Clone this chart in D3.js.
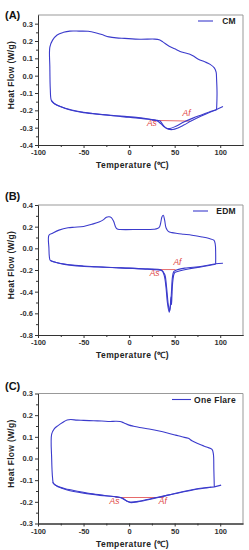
<!DOCTYPE html>
<html>
<head>
<meta charset="utf-8">
<script src="https://cdn.jsdelivr.net/npm/d3@7"></script>
<style>
  body { margin: 0; background: #fff; }
  svg { display: block; font-family: "Liberation Sans", Arial, sans-serif; }
  .tick text { fill: #333; font-size: 7.5px; font-weight: bold; }
  .domain, .tick line { stroke: #333; }
</style>
</head>
<body>
<div id="chart"></div>
<script>
// x axis (shared)
var xTicks = [-100, -50, 0, 50, 100];
var xTickLabels = ["-100", "-50", "0", "50", "100"];
var xMinor = [-75, -25, 25, 75];

// (A) CM
var cmTicks = [0.3, 0.2, 0.1, 0.0, -0.1, -0.2, -0.3, -0.4];
var cmTickLabels = ["0.3", "0.2", "0.1", "0.0", "-0.1", "-0.2", "-0.3", "-0.4"];
var cmLoop = [[96,-0.197],[96.5,-0.1],[96,-0.02],[95.5,0.02],[93.5,0.045],[89,0.065],[83,0.08],[76,0.095],[70,0.115],[66,0.125],[61,0.132],[56,0.14],[50,0.155],[44,0.17],[37,0.195],[33,0.207],[28,0.211],[12,0.21],[-5,0.215],[-14,0.218],[-22,0.224],[-30,0.237],[-37,0.248],[-45,0.256],[-55,0.257],[-65,0.257],[-72,0.25],[-79,0.235],[-84,0.205],[-87,0.165],[-87,0.05],[-86.5,-0.08],[-85.5,-0.14],[-83,-0.158],[-78,-0.172],[-70,-0.19],[-60,-0.204],[-50,-0.213],[-35,-0.222],[-20,-0.229],[-5,-0.235],[10,-0.242],[20,-0.249],[27,-0.255],[31,-0.262],[35,-0.278],[39,-0.297],[43,-0.309],[48,-0.311],[53,-0.303],[60,-0.285],[68,-0.262],[78,-0.236],[88,-0.212],[96,-0.197]];
var cmHeat = [[-85,-0.145],[-80,-0.168],[-70,-0.188],[-55,-0.207],[-40,-0.218],[-20,-0.23],[0,-0.24],[15,-0.248],[25,-0.255],[31,-0.258],[34,-0.262],[36,-0.275],[38,-0.29],[41,-0.303],[45,-0.305],[52,-0.29],[60,-0.268],[70,-0.245],[80,-0.225],[90,-0.205],[96,-0.195],[103,-0.178]];
var cmBase = [[25,-0.258],[67,-0.262]];
var cmMarks = [{t: "As", x: 25, y: -0.29}, {t: "Af", x: 63, y: -0.232}];

// (B) EDM
var edmTicks = [0.4, 0.2, 0.0, -0.2, -0.4, -0.6, -0.8];
var edmTickLabels = ["0.4", "0.2", "0.0", "-0.2", "-0.4", "-0.6", "-0.8"];
var edmLoop = [[95,-0.142],[95,-0.05],[94.5,0.04],[93,0.075],[88,0.09],[80,0.105],[69,0.121],[60,0.13],[53,0.137],[47,0.145],[43,0.157],[40.5,0.19],[39,0.26],[37.5,0.305],[36,0.29],[35,0.25],[33.5,0.2],[31,0.182],[27,0.176],[10,0.174],[-10,0.174],[-13,0.178],[-15,0.2],[-17,0.25],[-19.5,0.283],[-22,0.292],[-25,0.287],[-28,0.265],[-33,0.243],[-41,0.222],[-50,0.202],[-60,0.195],[-67,0.19],[-77,0.168],[-84,0.14],[-88,0.121],[-88,0.0],[-87.5,-0.08],[-86.5,-0.112],[-82,-0.127],[-71,-0.148],[-52,-0.166],[-33,-0.173],[-14,-0.179],[4,-0.185],[20,-0.193],[30,-0.198],[36,-0.205],[38.5,-0.25],[40.5,-0.36],[42,-0.5],[44,-0.59],[45.5,-0.52],[46.5,-0.4],[47.5,-0.27],[49,-0.215],[52,-0.2],[61,-0.183],[80,-0.166],[95,-0.142],[103,-0.138]];
var edmHeat = [[-86,-0.115],[-75,-0.14],[-50,-0.163],[-25,-0.175],[0,-0.183],[20,-0.19],[35,-0.2],[39,-0.24],[41,-0.35],[43,-0.52],[44.5,-0.58],[46,-0.45],[46.5,-0.52],[47,-0.44],[48,-0.3],[50,-0.225],[55,-0.21],[65,-0.19],[80,-0.17],[95,-0.147]];
var edmBase = [[24,-0.196],[51,-0.196]];
var edmMarks = [{t: "As", x: 28, y: -0.255}, {t: "Af", x: 53, y: -0.15}];

// (C) One Flare
var flareTicks = [0.3, 0.2, 0.1, 0.0, -0.1, -0.2, -0.3];
var flareTickLabels = ["0.3", "0.2", "0.1", "0.0", "-0.1", "-0.2", "-0.3"];
var flareLoop = [[93.5,-0.131],[93,-0.05],[92.5,0.02],[91,0.042],[85,0.053],[80,0.061],[74,0.072],[69,0.082],[65,0.093],[58,0.1],[51,0.108],[42,0.118],[33,0.127],[22,0.136],[11.5,0.143],[5,0.149],[0,0.154],[-6,0.165],[-10,0.171],[-15,0.172],[-21,0.171],[-30,0.173],[-39,0.174],[-50,0.176],[-57,0.177],[-64,0.18],[-68,0.178],[-73,0.166],[-78,0.152],[-82,0.138],[-85,0.112],[-85,0.0],[-84,-0.09],[-83,-0.115],[-78,-0.13],[-68,-0.145],[-50,-0.16],[-32,-0.17],[-14,-0.177],[-7,-0.183],[-3,-0.195],[1,-0.203],[5,-0.203],[15,-0.196],[33,-0.179],[51,-0.16],[69,-0.144],[83,-0.135],[93.5,-0.131],[101,-0.123]];
var flareHeat = [[-84,-0.11],[-80,-0.125],[-70,-0.14],[-55,-0.152],[-40,-0.163],[-25,-0.172],[-10,-0.18],[0,-0.2],[10,-0.198],[30,-0.18],[50,-0.163],[70,-0.145],[90,-0.133]];
var flareBase = [[-15,-0.18],[38,-0.18]];
var flareMarks = [{t: "As", x: -16, y: -0.212}, {t: "Af", x: 37, y: -0.212}];

var lineColor = "#3b3bcc";
var redColor = "#e04444";

var svg = d3.select("#chart").append("svg")
    .attr("width", 249)
    .attr("height", 550);

function drawPanel(p) {
    var left = 38, right = 243;
    var x = d3.scaleLinear().domain([-100, 125]).range([left, right]);
    var y = d3.scaleLinear().domain(p.yDomain).range([p.bottom, p.top]);
    var g = svg.append("g");

    // box top/right
    g.append("path")
        .attr("d", "M" + left + "," + p.top + "H" + right + "V" + p.bottom)
        .attr("fill", "none")
        .attr("stroke", "#999")
        .attr("stroke-width", 1);

    // minor ticks
    g.append("g")
        .attr("transform", "translate(0," + p.bottom + ")")
        .call(d3.axisBottom(x).tickValues(xMinor).tickFormat("").tickSize(2).tickSizeOuter(0));
    var yMinor = p.ticks.slice(1).map(function (d, i) { return (d + p.ticks[i]) / 2; });
    g.append("g")
        .attr("transform", "translate(" + left + ",0)")
        .call(d3.axisLeft(y).tickValues(yMinor).tickFormat("").tickSize(2).tickSizeOuter(0));

    // major axes
    g.append("g")
        .attr("transform", "translate(0," + p.bottom + ")")
        .call(d3.axisBottom(x).tickValues(xTicks)
            .tickFormat(function (d, i) { return xTickLabels[i]; })
            .tickSize(3).tickSizeOuter(0).tickPadding(2));
    g.append("g")
        .attr("transform", "translate(" + left + ",0)")
        .call(d3.axisLeft(y).tickValues(p.ticks)
            .tickFormat(function (d, i) { return p.tickLabels[i]; })
            .tickSize(3).tickSizeOuter(0).tickPadding(2));
    g.selectAll(".domain").attr("stroke", "#333");

    var line = d3.line()
        .x(function (d) { return x(d[0]); })
        .y(function (d) { return y(d[1]); })
        .curve(d3.curveCatmullRom.alpha(0.5));

    // baseline As-Af
    g.append("path")
        .datum(p.base)
        .attr("d", d3.line().x(function (d) { return x(d[0]); }).y(function (d) { return y(d[1]); }))
        .attr("fill", "none")
        .attr("stroke", redColor)
        .attr("stroke-width", 0.8);

    [p.heat, p.loop].forEach(function (s) {
        g.append("path")
            .datum(s)
            .attr("d", line)
            .attr("fill", "none")
            .attr("stroke", lineColor)
            .attr("stroke-width", 1.1)
            .attr("stroke-linejoin", "round");
    });

    g.selectAll(".mark")
        .data(p.marks)
        .enter().append("text")
            .attr("x", function (d) { return x(d.x); })
            .attr("y", function (d) { return y(d.y); })
            .attr("text-anchor", "middle")
            .style("font-size", "8.5px")
            .style("font-style", "italic")
            .attr("fill", redColor)
            .text(function (d) { return d.t; });

    // legend
    g.append("text")
        .attr("x", 236)
        .attr("y", p.top + 9)
        .attr("text-anchor", "end")
        .style("font-size", "8.5px")
        .style("font-weight", "bold")
        .style("letter-spacing", "0.3px")
        .attr("fill", "#222")
        .text(p.name);
    g.append("line")
        .attr("x1", p.legX1).attr("x2", p.legX2)
        .attr("y1", p.top + 6).attr("y2", p.top + 6)
        .attr("stroke", lineColor)
        .attr("stroke-width", 1.1);

    // panel letter
    g.append("text")
        .attr("x", 5)
        .attr("y", p.top - p.letterGap)
        .style("font-size", "11px")
        .style("font-weight", "bold")
        .attr("fill", "#111")
        .text(p.letter);

    // axis titles
    g.append("text")
        .attr("transform", "translate(14," + ((p.top + p.bottom) / 2 - 5) + ") rotate(-90)")
        .attr("text-anchor", "middle")
        .style("font-size", "8.5px")
        .style("font-weight", "bold")
        .style("letter-spacing", "0.3px")
        .attr("fill", "#222")
        .text("Heat Flow (W/g)");
    g.append("text")
        .attr("x", (left + right) / 2 - 8)
        .attr("y", p.bottom + 23)
        .attr("text-anchor", "middle")
        .style("font-size", "8.5px")
        .style("font-weight", "bold")
        .style("letter-spacing", "0.4px")
        .attr("fill", "#222")
        .text("Temperature (\u2103)");
}

drawPanel({ letter: "(A)", name: "CM", top: 15, bottom: 145, letterGap: -4, yDomain: [-0.4, 0.35],
    ticks: cmTicks, tickLabels: cmTickLabels, loop: cmLoop, heat: cmHeat, base: cmBase, marks: cmMarks,
    legX1: 198, legX2: 213 });
drawPanel({ letter: "(B)", name: "EDM", top: 205, bottom: 335, letterGap: 5, yDomain: [-0.8, 0.4],
    ticks: edmTicks, tickLabels: edmTickLabels, loop: edmLoop, heat: edmHeat, base: edmBase, marks: edmMarks,
    legX1: 193, legX2: 208 });
drawPanel({ letter: "(C)", name: "One Flare", top: 393.5, bottom: 523.5, letterGap: 4, yDomain: [-0.3, 0.3],
    ticks: flareTicks, tickLabels: flareTickLabels, loop: flareLoop, heat: flareHeat, base: flareBase, marks: flareMarks,
    legX1: 172, legX2: 191 });
</script>
</body>
</html>
